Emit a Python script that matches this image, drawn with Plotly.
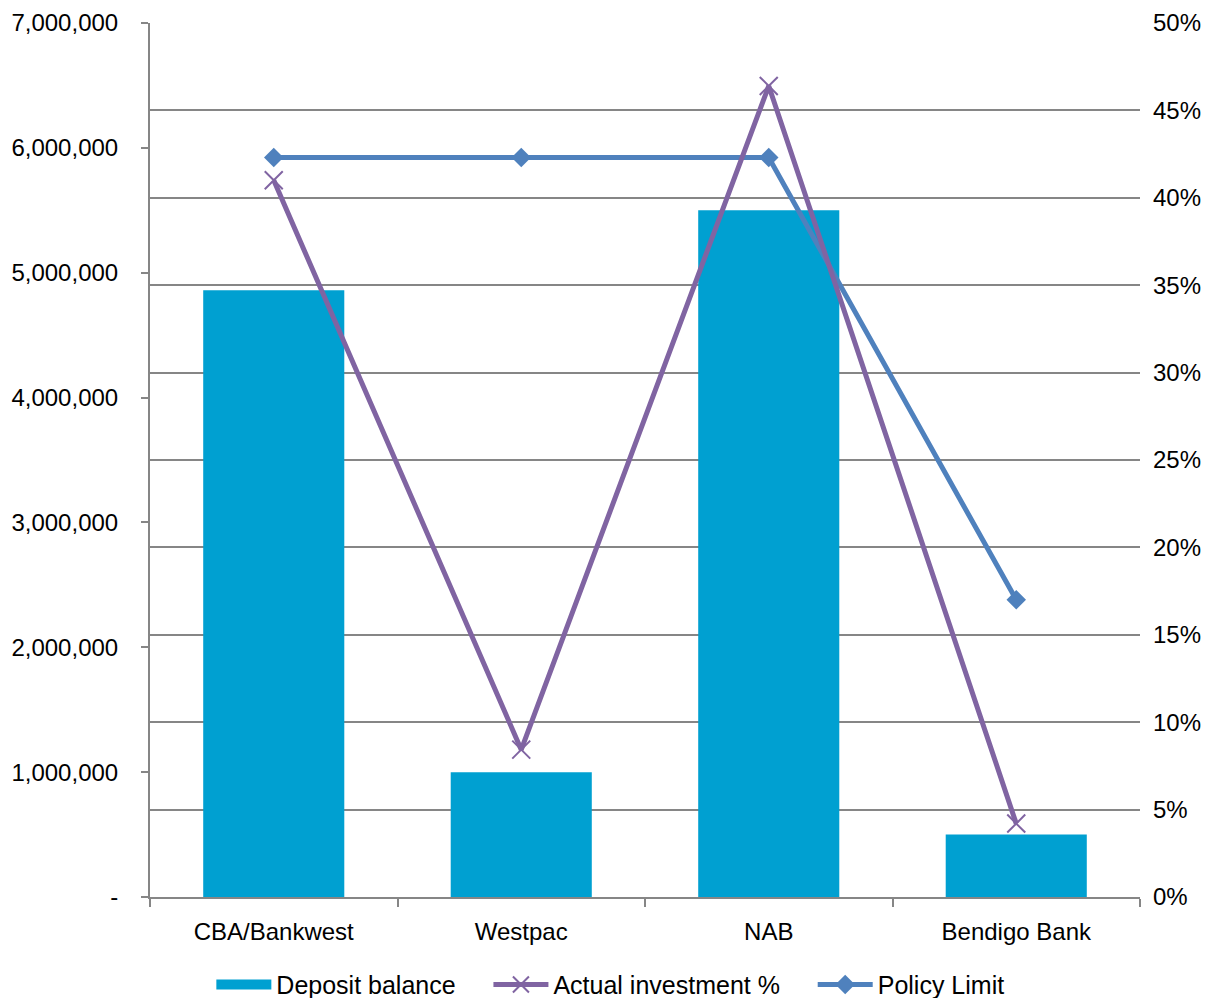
import plotly.graph_objects as go

categories = ["CBA/Bankwest", "Westpac", "NAB", "Bendigo Bank"]
deposit_balance = [4860000, 1000000, 5500000, 500000]
actual_pct = [0.410, 0.0843, 0.464, 0.042]
policy_limit = [0.423, 0.423, 0.423, 0.17]

left_tickvals = [0, 1000000, 2000000, 3000000, 4000000, 5000000, 6000000, 7000000]
left_ticktext = ["-", "1,000,000", "2,000,000", "3,000,000", "4,000,000",
                 "5,000,000", "6,000,000", "7,000,000"]
right_tickvals = [0, 0.05, 0.10, 0.15, 0.20, 0.25, 0.30, 0.35, 0.40, 0.45, 0.50]
right_ticktext = ["0%", "5%", "10%", "15%", "20%", "25%", "30%", "35%", "40%", "45%", "50%"]

FONT = "Liberation Sans"
AXIS = "#868686"
BAR = "#00A0D1"
PAD = "&nbsp;" * 4  # extra spacing between legend entries

fig = go.Figure()
fig.add_trace(go.Bar(
    x=categories, y=deposit_balance, name="Deposit balance",
    marker=dict(color=BAR, line=dict(width=0)),
    width=0.57, showlegend=False, yaxis="y",
))
# legend entry for bars drawn as a wide block (as in the reference)
fig.add_trace(go.Scatter(
    x=[None], y=[None], name="Deposit balance" + PAD, mode="lines",
    line=dict(color=BAR, width=15), legendrank=1, yaxis="y",
))
fig.add_trace(go.Scatter(
    x=categories, y=policy_limit, name="Policy Limit", mode="lines+markers",
    line=dict(color="#4F81BD", width=5),
    marker=dict(symbol="diamond", size=15, color="#4F81BD"),
    legendrank=3, yaxis="y2",
))
fig.add_trace(go.Scatter(
    x=categories, y=actual_pct, name="Actual investment %" + PAD, mode="lines+markers",
    line=dict(color="#8064A2", width=5),
    marker=dict(symbol="x-thin", size=18, line=dict(color="#8064A2", width=2)),
    legendrank=2, yaxis="y2",
))

fig.update_layout(
    width=1215, height=998,
    margin=dict(l=150, r=75, t=23, b=101, autoexpand=False),
    paper_bgcolor="white", plot_bgcolor="white",
    font=dict(family=FONT, size=24, color="black"),
    showlegend=True,
    legend=dict(orientation="h", x=0.465, xanchor="center", y=-0.074, yanchor="top",
                font=dict(size=25), itemwidth=55, traceorder="normal"),
    xaxis=dict(
        type="category", range=[-0.5, 3.5],
        showline=True, linecolor=AXIS, linewidth=2,
        ticks="outside", tickson="boundaries", ticklen=8, tickcolor=AXIS, tickwidth=2,
        showgrid=False, tickfont=dict(size=24), ticklabelstandoff=12,
    ),
    yaxis=dict(
        range=[0, 7000000], tickvals=left_tickvals, ticktext=left_ticktext,
        showline=True, linecolor=AXIS, linewidth=2,
        ticks="outside", ticklen=7, tickcolor=AXIS, tickwidth=2,
        showgrid=False, zeroline=False, ticklabelstandoff=18,
        tickfont=dict(size=24),
    ),
    yaxis2=dict(
        range=[0, 0.5], tickvals=right_tickvals, ticktext=right_ticktext,
        overlaying="y", side="right",
        showline=False, ticks="", showgrid=True, gridcolor=AXIS, gridwidth=2,
        zeroline=False, ticklabelstandoff=12, tickfont=dict(size=24),
    ),
)

fig.write_html("out.html")
